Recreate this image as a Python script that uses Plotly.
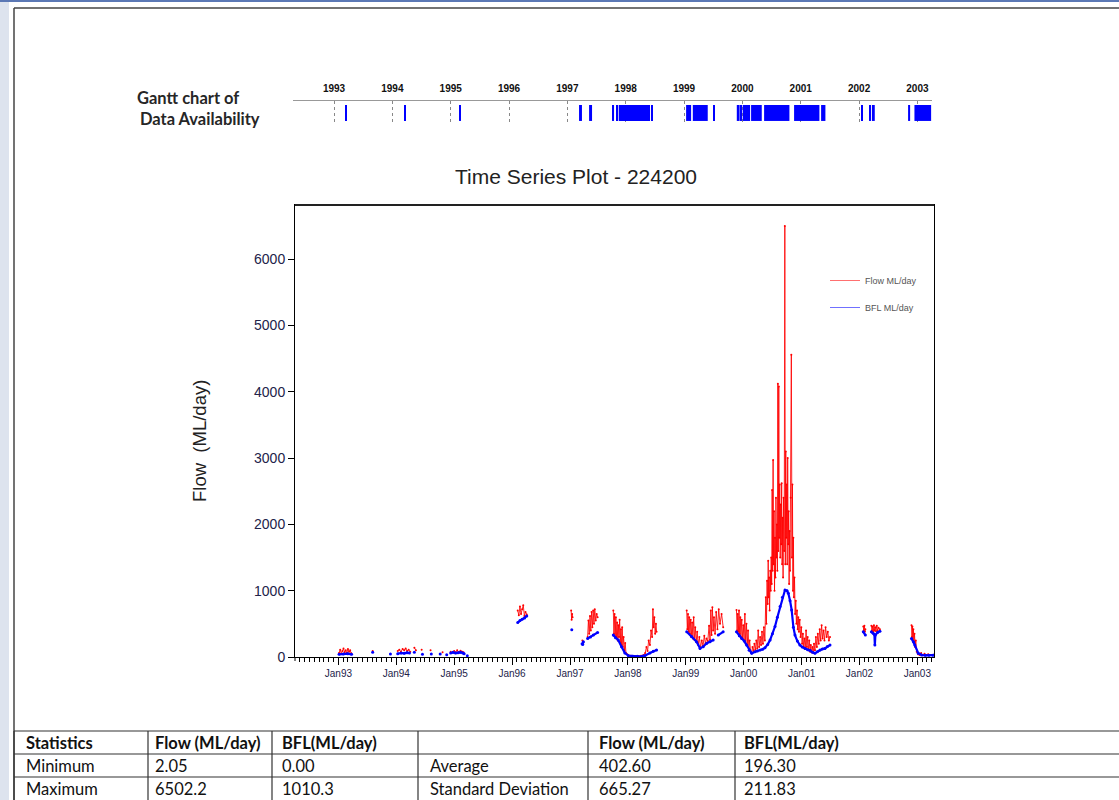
import plotly.graph_objects as go

W, H = 1119, 808   # the page is photographed slightly taller than 800 and scaled to 800
def px(x):
    return x / W
def py(y):
    return 1 - y / 800.0

# ---------------- Flow (ML/day) : (date, value); None = gap ----------------
flow_1993_1995 = [
    ("1993-01-05", 60), ("1993-01-12", 110), ("1993-01-19", 50), ("1993-01-26", 90), ("1993-02-02", 130),
    ("1993-02-09", 70), ("1993-02-16", 100), ("1993-02-23", 60), ("1993-03-02", 120), ("1993-03-09", 80),
    ("1993-03-16", 100), ("1993-03-23", 55), ("1993-04-15", None),
    ("1993-08-05", 90), ("1993-08-20", None),
    ("1994-01-10", 90), ("1994-01-20", 110), ("1994-01-30", 80), ("1994-02-10", 120), ("1994-02-20", 100),
    ("1994-03-01", 130), ("1994-03-10", 90), ("1994-03-20", 110), ("1994-03-30", 80), ("1994-04-12", None),
    ("1994-04-25", 140), ("1994-05-05", 100), ("1994-05-20", None),
    ("1994-06-10", 110), ("1994-06-25", None),
    ("1994-08-05", 100), ("1994-08-20", None),
    ("1994-10-20", 70), ("1994-11-05", None),
    ("1994-12-10", 80), ("1994-12-20", None),
    ("1995-01-01", 90), ("1995-01-10", 70), ("1995-01-20", 100), ("1995-01-30", 75), ("1995-02-10", 95),
    ("1995-02-20", 80), ("1995-03-01", 70), ("1995-03-15", None),
]
flow_1996_1997 = [
    ("1996-02-06", 700), ("1996-02-13", 630), ("1996-02-20", 760), ("1996-02-27", 650), ("1996-03-05", 720),
    ("1996-03-12", 780), ("1996-03-19", 620), ("1996-03-26", 680), ("1996-04-03", 640), ("1996-04-20", None),
    ("1997-01-08", 700), ("1997-01-11", 560), ("1997-01-14", 650), ("1997-01-17", 600), ("1997-02-01", None),
    ("1997-03-20", 250), ("1997-03-26", 230), ("1997-04-05", None),
    ("1997-04-22", 300), ("1997-04-27", 550), ("1997-05-02", 350), ("1997-05-07", 620), ("1997-05-12", 400),
    ("1997-05-17", 680), ("1997-05-22", 450), ("1997-05-27", 700), ("1997-06-01", 500), ("1997-06-06", 720),
    ("1997-06-12", 550), ("1997-06-18", 650), ("1997-06-24", 600), ("1997-07-10", None),
]
flow_1997_1998 = [
    ("1997-10-01", 700), ("1997-10-05", 350), ("1997-10-09", 650), ("1997-10-13", 300), ("1997-10-17", 600),
    ("1997-10-21", 280), ("1997-10-25", 520), ("1997-10-29", 250), ("1997-11-02", 480), ("1997-11-06", 300),
    ("1997-11-10", 560), ("1997-11-14", 220), ("1997-11-18", 420), ("1997-11-22", 180), ("1997-11-26", 450),
    ("1997-11-30", 150), ("1997-12-05", 300), ("1997-12-10", 100), ("1997-12-15", 210), ("1997-12-20", 60),
    ("1997-12-28", 40), ("1998-01-05", 25), ("1998-01-20", 20), ("1998-02-05", 15), ("1998-02-20", 12),
    ("1998-03-10", 15), ("1998-03-25", 20), ("1998-04-10", 30), ("1998-04-20", 60), ("1998-04-28", 150),
    ("1998-05-05", 90), ("1998-05-12", 250), ("1998-05-20", 180), ("1998-05-27", 400), ("1998-06-03", 300),
    ("1998-06-08", 720), ("1998-06-12", 450), ("1998-06-17", 600), ("1998-06-22", 350), ("1998-06-27", 500),
    ("1998-07-01", 380), ("1998-07-15", None),
]
flow_1999 = [
    ("1999-01-07", 700), ("1999-01-11", 420), ("1999-01-15", 650), ("1999-01-19", 380), ("1999-01-23", 600),
    ("1999-01-27", 350), ("1999-02-01", 560), ("1999-02-05", 300), ("1999-02-10", 520), ("1999-02-15", 280),
    ("1999-02-20", 600), ("1999-02-25", 260), ("1999-03-02", 450), ("1999-03-08", 230), ("1999-03-14", 380),
    ("1999-03-20", 180), ("1999-03-28", 300), ("1999-04-04", 140), ("1999-04-12", 250), ("1999-04-20", 170),
    ("1999-04-28", 320), ("1999-05-05", 200), ("1999-05-12", 280), ("1999-05-20", 240), ("1999-05-28", 470),
    ("1999-06-03", 260), ("1999-06-08", 700), ("1999-06-13", 330), ("1999-06-18", 750), ("1999-06-23", 400),
    ("1999-06-28", 600), ("1999-07-05", 350), ("1999-07-12", 680), ("1999-07-20", 420), ("1999-07-28", 720),
    ("1999-08-05", 500), ("1999-08-15", 650), ("1999-08-25", 450), ("1999-09-10", None),
]
flow_2000_2001 = [
    ("1999-11-17", 710), ("1999-11-21", 400), ("1999-11-25", 650), ("1999-11-29", 380), ("1999-12-03", 700),
    ("1999-12-07", 350), ("1999-12-11", 600), ("1999-12-15", 300), ("1999-12-20", 560), ("1999-12-25", 280),
    ("1999-12-30", 480), ("2000-01-04", 250), ("2000-01-09", 650), ("2000-01-14", 200), ("2000-01-19", 500),
    ("2000-01-24", 180), ("2000-01-29", 400), ("2000-02-03", 120), ("2000-02-08", 250), ("2000-02-14", 80),
    ("2000-02-20", 60), ("2000-02-26", 150), ("2000-03-03", 90), ("2000-03-09", 200), ("2000-03-15", 110),
    ("2000-03-21", 250), ("2000-03-27", 130), ("2000-04-02", 400), ("2000-04-08", 150), ("2000-04-14", 300),
    ("2000-04-20", 180), ("2000-04-26", 380), ("2000-05-02", 200), ("2000-05-08", 450), ("2000-05-14", 250),
    ("2000-05-20", 900), ("2000-05-24", 500), ("2000-05-28", 1150), ("2000-06-01", 800), ("2000-06-04", 1450),
    ("2000-06-07", 900), ("2000-06-10", 1200), ("2000-06-13", 700), ("2000-06-17", 1300), ("2000-06-20", 1000),
    ("2000-06-23", 1500), ("2000-06-26", 1100), ("2000-06-29", 2520), ("2000-07-02", 1300), ("2000-07-05", 2970),
    ("2000-07-08", 1400), ("2000-07-11", 2200), ("2000-07-14", 1000), ("2000-07-17", 1800), ("2000-07-20", 1200),
    ("2000-07-23", 2400), ("2000-07-26", 1500), ("2000-07-29", 2000), ("2000-08-01", 1300), ("2000-08-04", 4120),
    ("2000-08-07", 1600), ("2000-08-10", 4080), ("2000-08-13", 1800), ("2000-08-16", 2600), ("2000-08-19", 1500),
    ("2000-08-22", 2300), ("2000-08-25", 1700), ("2000-08-28", 2620), ("2000-08-31", 1400), ("2000-09-03", 2100),
    ("2000-09-06", 1200), ("2000-09-09", 2400), ("2000-09-13", 1600), ("2000-09-17", 6502), ("2000-09-20", 1400),
    ("2000-09-23", 3100), ("2000-09-26", 1800), ("2000-09-29", 2600), ("2000-10-02", 1400), ("2000-10-05", 3000),
    ("2000-10-08", 1700), ("2000-10-11", 2200), ("2000-10-14", 1100), ("2000-10-17", 1900), ("2000-10-20", 1300),
    ("2000-10-24", 2400), ("2000-10-28", 4560), ("2000-11-01", 1500), ("2000-11-04", 2600), ("2000-11-07", 1000),
    ("2000-11-10", 1800), ("2000-11-13", 900), ("2000-11-17", 1200), ("2000-11-21", 650), ("2000-11-25", 850),
    ("2000-11-29", 500), ("2000-12-03", 700), ("2000-12-07", 420), ("2000-12-11", 600), ("2000-12-15", 380),
    ("2000-12-20", 560), ("2000-12-25", 300), ("2000-12-30", 450), ("2001-01-04", 200), ("2001-01-09", 350),
    ("2001-01-14", 150), ("2001-01-19", 280), ("2001-01-24", 120), ("2001-01-29", 400), ("2001-02-03", 150),
    ("2001-02-08", 300), ("2001-02-13", 100), ("2001-02-18", 250), ("2001-02-23", 80), ("2001-02-28", 180),
    ("2001-03-05", 70), ("2001-03-10", 150), ("2001-03-15", 60), ("2001-03-20", 200), ("2001-03-26", 100),
    ("2001-04-01", 300), ("2001-04-07", 150), ("2001-04-13", 350), ("2001-04-19", 200), ("2001-04-25", 420),
    ("2001-05-01", 250), ("2001-05-07", 480), ("2001-05-13", 280), ("2001-05-19", 400), ("2001-05-25", 250),
    ("2001-06-01", 450), ("2001-06-08", 300), ("2001-06-15", 380), ("2001-06-22", 250), ("2001-06-29", 300),
    ("2001-07-15", None),
]
flow_2002_2003 = [
    ("2002-01-25", 460), ("2002-01-28", 400), ("2002-02-01", 470), ("2002-02-04", 380), ("2002-02-07", 420),
    ("2002-02-20", None),
    ("2002-03-17", 470), ("2002-03-21", 400), ("2002-03-25", 460), ("2002-03-29", 380), ("2002-04-02", 480),
    ("2002-04-06", 400), ("2002-04-10", 450), ("2002-04-15", 390), ("2002-04-20", 470), ("2002-04-25", 400),
    ("2002-05-01", 440), ("2002-05-10", 420), ("2002-05-25", None),
    ("2002-11-25", 480), ("2002-11-28", 300), ("2002-12-01", 460), ("2002-12-04", 250), ("2002-12-07", 420),
    ("2002-12-10", 220), ("2002-12-14", 350), ("2002-12-18", 150), ("2002-12-22", 250), ("2002-12-28", 80),
    ("2003-01-05", 40), ("2003-01-15", 30), ("2003-01-25", 60), ("2003-02-05", 25), ("2003-02-15", 50),
    ("2003-02-25", 30), ("2003-03-10", 40), ("2003-03-20", 30), ("2003-04-10", 35),
]

# ---------------- Baseflow BFL (ML/day) ----------------
bfl_1993_1995 = [
    ("1993-01-05", 40), ("1993-02-01", 45), ("1993-03-01", 50), ("1993-03-25", 40), ("1993-04-15", None),
    ("1993-08-05", 70), ("1993-08-20", None),
    ("1993-11-25", 45), ("1993-12-10", None),
    ("1994-01-10", 50), ("1994-02-01", 60), ("1994-02-20", 55), ("1994-03-10", 65), ("1994-03-25", 60),
    ("1994-04-12", None),
    ("1994-04-25", 70), ("1994-05-10", None),
    ("1994-06-15", 40), ("1994-06-30", None),
    ("1994-08-10", 45), ("1994-08-25", None),
    ("1994-10-05", 45), ("1994-10-20", None),
    ("1994-11-15", 35), ("1994-11-30", None),
    ("1994-12-10", 60), ("1994-12-25", 70), ("1995-01-10", 60), ("1995-01-25", 65), ("1995-02-10", 70),
    ("1995-02-25", 60), ("1995-03-05", 50), ("1995-03-15", None),
    ("1995-03-25", 20), ("1995-04-10", None),
]
bfl_1996_1997 = [
    ("1996-02-06", 520), ("1996-02-20", 550), ("1996-03-05", 570), ("1996-03-20", 590), ("1996-04-03", 620),
    ("1996-04-20", None),
    ("1997-01-12", 410), ("1997-01-25", None),
    ("1997-03-18", 200), ("1997-03-22", 190), ("1997-03-26", 230), ("1997-04-05", None),
    ("1997-04-22", 280), ("1997-05-10", 300), ("1997-05-28", 330), ("1997-06-24", 370), ("1997-07-10", None),
]
bfl_1997_1998 = [
    ("1997-10-01", 330), ("1997-10-15", 290), ("1997-11-01", 255), ("1997-11-22", 155), ("1997-12-13", 60),
    ("1998-01-04", 20), ("1998-02-01", 12), ("1998-03-01", 10), ("1998-04-01", 12), ("1998-04-18", 20),
    ("1998-05-20", 60), ("1998-06-10", 85), ("1998-07-01", 105), ("1998-07-15", None),
]
bfl_1999 = [
    ("1999-01-07", 380), ("1999-02-07", 310), ("1999-03-10", 230), ("1999-04-01", 130), ("1999-04-21", 155),
    ("1999-05-12", 205), ("1999-06-03", 230), ("1999-06-23", 255), ("1999-07-10", None),
    ("1999-07-25", 330), ("1999-08-25", 380), ("1999-09-10", None),
]
bfl_2000_2001 = [
    ("1999-11-17", 380), ("1999-12-05", 320), ("1999-12-20", 280), ("2000-01-05", 240), ("2000-01-20", 180),
    ("2000-02-05", 100), ("2000-02-21", 55), ("2000-03-13", 80), ("2000-03-28", 90), ("2000-04-14", 105),
    ("2000-04-30", 115), ("2000-05-15", 140), ("2000-06-01", 190), ("2000-06-16", 255), ("2000-07-01", 350),
    ("2000-07-17", 460), ("2000-08-01", 600), ("2000-08-18", 760), ("2000-09-02", 900), ("2000-09-18", 1010),
    ("2000-10-01", 1000), ("2000-10-09", 960), ("2000-10-20", 850), ("2000-10-30", 710), ("2000-11-10", 450),
    ("2000-11-20", 330), ("2000-12-05", 240), ("2000-12-21", 180), ("2001-01-05", 150), ("2001-01-22", 130),
    ("2001-02-08", 110), ("2001-02-23", 100), ("2001-03-10", 70), ("2001-03-26", 55), ("2001-04-10", 80),
    ("2001-04-27", 105), ("2001-05-12", 120), ("2001-05-28", 130), ("2001-06-12", 160), ("2001-06-29", 180),
    ("2001-07-15", None),
]
bfl_2002_2003 = [
    ("2002-01-25", 380), ("2002-02-07", 330), ("2002-02-20", None),
    ("2002-03-17", 380), ("2002-03-28", 360), ("2002-04-05", 340), ("2002-04-08", 180), ("2002-04-11", 330),
    ("2002-04-25", 370), ("2002-05-10", 390), ("2002-05-25", None),
    ("2002-11-25", 280), ("2002-12-08", 230), ("2002-12-16", 180), ("2003-01-07", 55), ("2003-01-28", 30),
    ("2003-02-20", 25), ("2003-03-15", 25), ("2003-04-10", 28),
]

# ---------------- Gantt chart of data availability (decimal years) ----------------
gantt_start = [1993.189, 1994.200, 1995.143, 1997.200, 1997.372, 1997.778, 1997.834, 1997.880, 1998.443,
               1999.035, 1999.150, 1999.497, 1999.904, 1999.949, 2000.006, 2000.149, 2000.372, 2000.886,
               2001.349, 2002.035, 2002.177, 2002.235, 2002.840, 2002.949]
gantt_end = [1993.206, 1994.217, 1995.177, 1997.250, 1997.423, 1997.800, 1997.851, 1998.417, 1998.460,
             1999.121, 1999.406, 1999.515, 1999.943, 1999.994, 2000.132, 2000.332, 2000.806, 2001.320,
             2001.423, 2002.052, 2002.206, 2002.269, 2002.875, 2003.235]
gantt_years = [1993, 1994, 1995, 1996, 1997, 1998, 1999, 2000, 2001, 2002, 2003]

# ---------------- Axis ticks ----------------
flow_ticks = [0, 1000, 2000, 3000, 4000, 5000, 6000]

# ---------------- Statistics table ----------------
table_header = ["Statistics", "Flow (ML/day)", "BFL(ML/day)", "", "Flow (ML/day)", "BFL(ML/day)"]
stat_left = ["Minimum", "Maximum"]
flow_min_max = ["2.05", "6502.2"]
bfl_min_max = ["0.00", "1010.3"]
stat_right = ["Average", "Standard Deviation"]
flow_avg_sd = ["402.60", "665.27"]
bfl_avg_sd = ["196.30", "211.83"]


def unpack(*segments):
    d, v = [], []
    for seg in segments:
        for a, b in seg:
            d.append(a)
            v.append(b)
    return d, v


flow_d, flow_v = unpack(flow_1993_1995, flow_1996_1997, flow_1997_1998, flow_1999, flow_2000_2001, flow_2002_2003)
bfl_d, bfl_v = unpack(bfl_1993_1995, bfl_1996_1997, bfl_1997_1998, bfl_1999, bfl_2000_2001, bfl_2002_2003)

FONT = "Liberation Sans, Arial, sans-serif"
DOCFONT = "Lato, Open Sans, sans-serif"
TICKCOL = "#23234a"

fig = go.Figure()

# flow (red) and baseflow (blue)
fig.add_trace(go.Scatter(x=flow_d, y=flow_v, mode="lines+markers", showlegend=False,
                         line=dict(color="rgba(255,0,0,0.85)", width=1),
                         marker=dict(color="red", size=2), xaxis="x", yaxis="y"))
fig.add_trace(go.Scatter(x=bfl_d, y=bfl_v, mode="lines+markers", showlegend=False,
                         line=dict(color="#0000ff", width=2.2),
                         marker=dict(color="#0000ff", size=3), xaxis="x", yaxis="y"))
# legend entries
fig.add_trace(go.Scatter(x=[None], y=[None], mode="lines", name="Flow ML/day", legendgroup="a",
                         line=dict(color="#ff7070", width=1), xaxis="x", yaxis="y"))
fig.add_trace(go.Scatter(x=[None], y=[None], mode="lines", name="BFL ML/day", legendgroup="b",
                         line=dict(color="#7070ff", width=1), xaxis="x", yaxis="y"))

# Gantt bars
fig.add_trace(go.Bar(x=[e - s for s, e in zip(gantt_start, gantt_end)], base=gantt_start,
                     y=[0.43] * len(gantt_start), width=0.76, orientation="h",
                     marker=dict(color="#0000ff", line=dict(width=0)), showlegend=False,
                     xaxis="x2", yaxis="y2", hoverinfo="skip"))

# ---------------- page frame ----------------
shapes = [
    dict(type="rect", xref="paper", yref="paper", x0=0, x1=px(9), y0=0, y1=1,
         fillcolor="#dde3ee", line=dict(width=0), layer="below"),
    dict(type="rect", xref="paper", yref="paper", x0=0, x1=1, y0=py(2), y1=1,
         fillcolor="#5b78b5", line=dict(width=0), layer="below"),
    dict(type="line", xref="paper", yref="paper", x0=px(14), x1=px(14), y0=0, y1=py(8),
         line=dict(color="#444444", width=1.5)),
    dict(type="line", xref="paper", yref="paper", x0=px(14), x1=1, y0=py(8), y1=py(8),
         line=dict(color="#444444", width=1.5)),
    # heavier top edge of the plot frame and the small extension of the y axis below zero
    dict(type="line", xref="paper", yref="paper", x0=px(295), x1=px(934), y0=py(205), y1=py(205),
         line=dict(color="#222222", width=2)),
    dict(type="line", xref="paper", yref="paper", x0=px(295), x1=px(295), y0=py(657), y1=py(661),
         line=dict(color="black", width=1)),
]

# ---------------- statistics table (grid + text) ----------------
col_x = [14, 148, 272, 418, 588, 735]
row_y = [731, 754, 777, 800]
for yy in row_y[:-1]:
    shapes.append(dict(type="line", xref="paper", yref="paper", x0=px(14), x1=1, y0=py(yy), y1=py(yy),
                       line=dict(color="#333333", width=1.2)))
for xx in col_x:
    shapes.append(dict(type="line", xref="paper", yref="paper", x0=px(xx), x1=px(xx), y0=0, y1=py(731),
                       line=dict(color="#333333", width=1.2)))

annotations = [
    dict(text="Time Series Plot - 224200", xref="paper", yref="paper", x=px(576), y=py(177),
         xanchor="center", yanchor="middle", showarrow=False,
         font=dict(size=21, color="#222222", family=FONT)),
    dict(text="Flow \u00a0(ML/day)", xref="paper", yref="paper", x=px(199), y=py(441),
         xanchor="center", yanchor="middle", showarrow=False, textangle=-90,
         font=dict(size=18.5, color="#222222", family=FONT)),
    dict(text="<b>Gantt chart of</b>", xref="paper", yref="paper", x=px(135), y=py(98),
         xanchor="left", yanchor="middle", showarrow=False,
         font=dict(size=16.5, color="#262626", family=DOCFONT)),
    dict(text="<b>Data Availability</b>", xref="paper", yref="paper", x=px(138), y=py(119),
         xanchor="left", yanchor="middle", showarrow=False,
         font=dict(size=16.5, color="#262626", family=DOCFONT)),
]

columns = [stat_left, flow_min_max, bfl_min_max, stat_right, flow_avg_sd, bfl_avg_sd]
text_x = [24, 153, 280, 428, 597, 742]
for ci, head in enumerate(table_header):
    if head:
        annotations.append(dict(text="<b>%s</b>" % head, xref="paper", yref="paper",
                                x=px(text_x[ci]), y=py((row_y[0] + row_y[1]) / 2), xanchor="left",
                                yanchor="middle", showarrow=False,
                                font=dict(size=16.5, color="#111111", family=DOCFONT)))
    for ri, val in enumerate(columns[ci]):
        annotations.append(dict(text=val, xref="paper", yref="paper",
                                x=px(text_x[ci]), y=py((row_y[ri + 1] + row_y[ri + 2]) / 2),
                                xanchor="left", yanchor="middle", showarrow=False,
                                font=dict(size=16.5, color="#111111", family=DOCFONT)))

fig.update_layout(
    width=W, height=H, autosize=False,
    margin=dict(l=0, r=0, t=0, b=0),
    paper_bgcolor="white", plot_bgcolor="white",
    font=dict(family=FONT, color="#222222"),
    barmode="overlay",
    xaxis=dict(type="date", domain=[px(295), px(934)], range=["1992-04-02", "2003-04-16"], anchor="y",
               showline=True, linecolor="black", linewidth=1, mirror=True,
               ticks="outside", ticklen=7, tickcolor="black", tick0="1993-01-01", dtick="M12",
               tickformat="%b%y", tickfont=dict(size=10, color=TICKCOL, family=FONT),
               showgrid=False, zeroline=False,
               minor=dict(ticks="outside", ticklen=4, tickcolor="black", dtick="M1", showgrid=False)),
    yaxis=dict(domain=[py(657), py(205)], range=[0, 6817], anchor="x",
               showline=True, linecolor="black", linewidth=1, mirror=True,
               ticks="outside", ticklen=6, tickcolor="black", tickvals=flow_ticks,
               tickfont=dict(size=14, color=TICKCOL, family=FONT), showgrid=False, zeroline=False),
    xaxis2=dict(domain=[px(293), px(932)], range=[1992.297, 2003.25], anchor="y2", side="top",
                showline=True, linecolor="#999999", linewidth=1, ticks="",
                tickvals=gantt_years, ticktext=["<b>%d</b>" % y for y in gantt_years],
                tickfont=dict(size=10, color="#111111", family=FONT), ticklabelstandoff=4,
                showgrid=True, gridcolor="#888888", griddash="dot", gridwidth=1, zeroline=False),
    yaxis2=dict(domain=[py(122), py(101)], range=[0, 1], anchor="x2", visible=False),
    legend=dict(x=px(825), y=py(266), xanchor="left", yanchor="top", bgcolor="rgba(0,0,0,0)",
                font=dict(size=9, color="#555555", family=FONT), itemwidth=30, tracegroupgap=8),
    shapes=shapes,
    annotations=annotations,
)

fig.write_html("out.html", config={"displayModeBar": False},
               post_script="document.body.style.margin='0';document.body.style.overflow='hidden';")
